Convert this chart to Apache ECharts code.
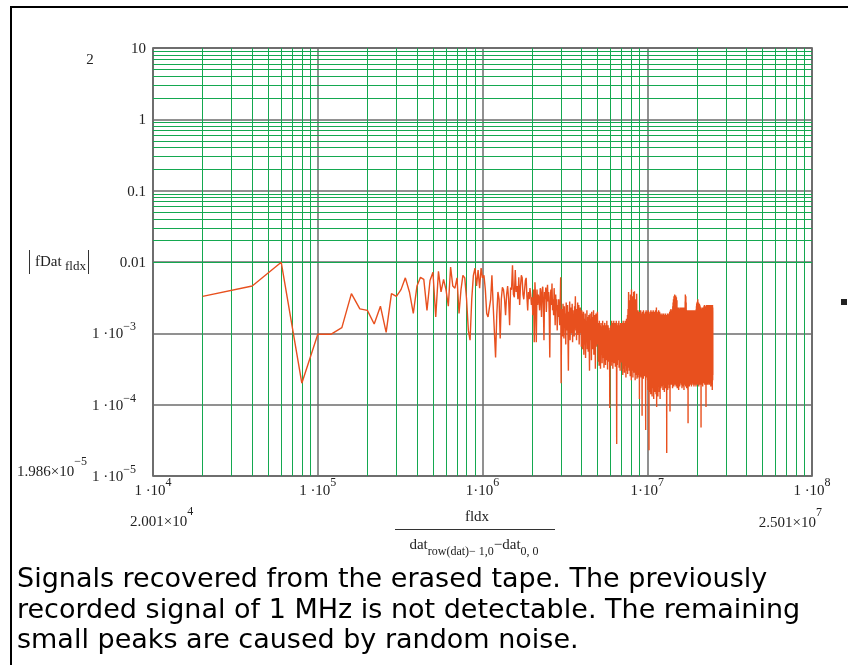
<!DOCTYPE html>
<html><head><meta charset="utf-8">
<script src="https://cdn.jsdelivr.net/npm/echarts@6/dist/echarts.min.js"></script>
<style>html,body{margin:0;padding:0;background:#fff}#c{width:848px;height:665px}</style>
</head><body><div id="c"></div>
<script>
// FFT bin spacing (Hz); bin k sits at k * FREQ_STEP, first bin 2.001e4, last 2.501e7
const FREQ_STEP = 2.001e4;
// |fDat| values, in units of 1e-4
const MAG_UNIT = 1e-4;
const magBins1to100 = [33,46,99,2.0,9.7,9.7,12,36,22,21, 13.5,24,10.3,36,33,41,60,38,19,46, 61,57,21,55,72,17,74,38,57,41, 24,85,46,43,60,19,41,65,60,30, 11,8,30,65,82,46,77,43,82,60, 65,41,19,17,17,30,65,25,24,4.6, 18,38,30,8.5,30,44,41,30,18,35, 46,30,13,44,41,90,35,32,77,38, 46,30,61,25,46,65,60,35,30,41, 55,60,32,21,38,30,43,35,25,32];
const magBins101to250 = [18,41,7.5,52,30,7.5,41,25,35,30, 21,43,35,17,41,45,25,8,38,30, 44,20,35,48,28,38,18,4.6,32,41, 25,50,21,30,18,43,25,13,35,21, 30,11,25,17,30,20,13,25,61,2,
 18,22,9,26,14,8.5,24,12,19,7, 27,11,16,25,9,3,20,13,28,8, 17,23,10,14,26,7.5,21,12,18,9, 24,15,33,11,20,8,22,13,27,9.5, 16,25,7,19,12,23,10,17,6.5,21,
 18,6,14,9,20,5,12,16,7,19, 4.5,11,15,8,21,6,13,17,5.5,10, 18,7,3,14,19,8,12,16,4.2,20, 9,13,6,17,11,21,5,15,8,18, 10,3.2,14,19,6.5,12,16,7,20,9];
const magBins251to500 = [14,4,9,12,3.5,15,6,11,13,3.2, 8,14,5,10,12.5,3.8,7,15,4.5,11, 9,13,3.3,6,12,14,5,10,3.6,13, 8,11,4.2,15,7,12,3.1,9,13,5.5, 11,4,12,8,10,0.9,6,11,4.4,12,
 13,3.5,9,15,4,11,7,14,3.2,10, 12,5,15,3.8,8,13,6,11,14,3.4, 9,12,4.5,15,7,0.28,13,10,3.6,12, 8,14,4.2,11,6,15,3.3,9,13,5, 12,3,10,14,7,11,3.9,13,8,12,
 14,3,10,13,2.6,8,15,4,12,3.2, 11,14,2.8,9,13,5,15,3.5,10,12, 2.4,14,7,16,3,11,13,4,18,2.7, 12,22,3.3,15,
 38,4,15,22,3,12,29,5,18,2.5, 35,9,3.8,20,14,2.2,41,6,17,3, 26,4.5,13,33,2.4,21,11,3.6,38,7, 16,2.8,24,39,5,12,19,2.2,27,3.2, 14,30,2.6,20,9,3.4,36,15,2.3,
 19,2.8,9,16,2.4,21,6,3.1,14,2.6, 18,3.3,11,20,1.2,15,7,2.5,17,3, 13,2.7,21,8,2.4,18,3.2,12,19,2.9, 16,0.7,10,20,2.6,14,3.4,18,5,2.3, 21,3,12,17,2.8,9,19,2.5,15,3.1, 18,2.7,11,20,3.3,0.44,16,6,21,2.9, 14,2.4,19,8,3.2,17,2.6];
const magBins501to750 = [20,2.2,13,18,1.6,9,21,2.6,15,1.9, 17,0.23,12,19,2.4,7,16,1.5,20,2.8, 14,2.1,18,10,1.4,21,2.5,13,17,1.8, 19,2.7,8,15,1.3,20,2.2,12,18,2.9, 16,1.7,21,11,2.4,14,1.2,19,6,2.6,
 18,2,13,20,1.5,10,17,2.8,15,1.9, 21,2.3,12,16,1.4,19,7,23,2.6,0.93, 17,2.1,14,20,1.6,11,18,2.7,9,1.3, 19,2.4,15,12,1.8,21,2.9,16,8,2, 18,1.5,13,20,2.5,10,17,1.2,19,2.2,
 16,2.3,11,18,1.7,13,2.8,17,8,2, 15,2.6,19,10,1.8,14,2.2,17,6,2.9, 18,1.6,12,16,2.5,9,19,2.1,14,1.9, 17,2.7,13,15,1.5,18,2.4,11,16,3, 14,2,19,7,1.7,17,2.6,12,18,2.3,
 15,1.8,16,10,2.9,0.21,18,2.2,13,17, 2.5,19,8,14,1.6,16,2.8,11,18,2.1, 15,1.9,17,12,2.6,19,9,2.3,16,1.7, 18,3,13,20,2.2,15,0.8,17,10,2.7, 21,2.4,16,12,1.9,22,3.1,18,8,2.5,
 19,2.4,14,21,1.9,11,18,2.9,16,2.2, 20,1.7,15,24,3,12,27,2.3,18,2, 30,2.6,17,25,1.8,33,3.2,14,28,2.4, 22,2,35,16,2.8,26,1.9,31,12,3.1, 29,2.3,19,34,2.7,15,27,1.8,24,2.9];
const magBins751to1000 = [32,2.1,18,26,3.3,13,29,2.5,21,1.7, 23,2.8,16,20,2.2,11,22,3,17,1.9, 21,2.6,14,23,1.6,18,2.4,12,20,3.2, 19,2.1,22,9,2.9,17,1.8,21,15,2.5, 23,2.7,13,20,2,18,3.1,16,22,2.3,
 21,2.6,15,23,1.9,12,20,3,18,2.2, 22,1.7,17,19,2.8,10,23,2.4,14,2, 20,3.2,16,22,2.1,13,21,1.8,18,2.7, 23,2.3,11,19,1.6,22,2.9,15,20,2.5, 18,2,21,14,3.1,23,2.2,17,28,1.9,
 35,2.6,22,31,1.8,16,33,2.9,19,2.3, 27,2.1,20,15,2.7,21,1.7,18,12,3, 19,2.4,16,21,1.9,14,20,2.8,17,2.2, 21,1.6,15,0.55,18,2.6,20,11,2.3,19, 2,17,21,3.1,13,18,2.5,20,9,1.8,
 19,2.7,14,21,2.1,17,3.2,11,20,2.4, 16,1.9,21,13,2.8,18,2.3,15,20,3, 18,2.2,12,21,2.6,17,1.8,19,14,3.3, 20,2.4,16,18,2,21,2.9,13,19,2.1, 17,3.1,21,15,2.3,19,1.9,12,20,2.7,
 18,2.5,14,21,3,16,2.2,20,10,1.8, 19,2.6,17,13,2.1,21,3.2,15,18,2.4, 20,1.9,16,19,2.8,11,21,2.3,17,3, 15,2.2,20,18,2.7,14,21,1.8,19,2.5, 22,3.1,17,24,2.4,19,26,2,21,2.9];
const magBins1001to1250 = [27,2.3,18,25,3,22,1.9,28,16,2.6, 24,2.1,30,19,2.8,26,2.4,17,23,3.2, 21,2,27,15,2.7,24,1.8,20,25,2.5, 19,3.1,23,16,2.2,26,2.9,18,22,2, 25,2.6,14,21,1.9,24,3.3,17,20,2.4,
 22,2.8,19,16,2.1,23,2.5,13,20,0.48, 18,2.7,21,15,2.2,19,3,12,22,1.9, 20,2.4,17,21,2.9,14,19,2.1,23,3.2, 16,2.3,20,18,1.8,22,2.6,15,21,2.8, 19,2,23,13,3.1,20,2.5,17,21,2.2,
 22,2.7,18,24,2,15,21,3,19,2.4, 25,2.2,17,20,2.8,23,1.9,14,22,3.2, 19,2.5,24,16,2.1,21,2.9,18,23,2.3, 20,3.1,15,22,2.6,0.93,19,24,2,17, 21,2.7,25,13,2.4,20,1.9,23,18,3,
 22,2.2,16,24,2.8,19,2.1,21,14,3.3, 23,2.5,20,17,1.9,25,2.9,18,22,2.3, 15,3,21,24,2.4,19,2,23,16,2.7, 20,2.2,25,18,3.2,22,2.6,14,21,1.9, 24,2.8,17,23,2.1,20,3.1,19,22,2.4,
 18,2,25,16,2.9,21,2.3,24,15,3.3, 22,2.5,19,23,1.8,20,2.7,17,24,2.2, 21,3,14,25,2.4,18,2.1,22,19,2.8, 23,2.6,20,16,1.9,24,3.2,18,21,1.6, 22,2.4,17,25,2.9,19,2.2,23,20,2.6];

// tick labels
const xTickBase = ['1 ·10','1 ·10','1·10','1·10','1 ·10'];   // 1e4 .. 1e8
const xTickExp  = ['4','5','6','7','8'];
const yTickBase = ['1 ·10','1 ·10','1 ·10','0.01','0.1','1','10']; // 1e-5 .. 10
const yTickExp  = ['−5','−4','−3','','','',''];
const minorMantissas = [2,3,4,5,6,7,8,9];
const xDecades = [1e4,1e5,1e6,1e7];
const yDecades = [1e-5,1e-4,1e-3,1e-2,1e-1,1];

const magAll = [].concat(magBins1to100, magBins101to250, magBins251to500, magBins501to750, magBins751to1000, magBins1001to1250);
const seriesData = magAll.map((u, i) => [(i + 1) * FREQ_STEP, u * MAG_UNIT]);

const xMinor = [], yMinor = [];
xDecades.forEach(d => minorMantissas.forEach(m => xMinor.push(m * d)));
yDecades.forEach(d => minorMantissas.forEach(m => yMinor.push(m * d)));

const serif = '"Liberation Serif", "Times New Roman", serif';
const ink = '#222';
const GREEN = '#14a850';
const MAJOR = '#6c6c6c';

// base / superscript fragments of equal box height; padding sets their vertical offsets
function richSet(basePad, supPad) {
  return {
    b: {fontFamily: serif, fontSize: 15, lineHeight: 16, color: ink, padding: basePad},
    s: {fontFamily: serif, fontSize: 12, lineHeight: 12, color: ink, padding: supPad}
  };
}
function tickText(base, exp) {
  return exp ? '{b|' + base + '}{s|' + exp + '}' : '{b|' + base + '}';
}
const captionFont = '27px "DejaVu Sans", Verdana, sans-serif';
function txt(x, y, text, font, align, extra) {
  return Object.assign({type: 'text', x: x, y: y, style: Object.assign({
    text: text, font: font, fill: ink, align: align, textAlign: align,
    verticalAlign: 'middle', textVerticalAlign: 'middle'}, extra || {})});
}

const chart = echarts.init(document.getElementById('c'), null, {renderer: 'canvas'});
chart.setOption({
  animation: false,
  backgroundColor: '#fff',
  grid: {left: 153, top: 48, width: 659, height: 428, show: true, borderColor: '#4a4a4a', borderWidth: 1.5, backgroundColor: 'transparent'},
  xAxis: {
    type: 'log', logBase: 10, min: 1e4, max: 1e8, splitNumber: 4,
    axisLine: {show: false}, axisTick: {show: false},
    splitLine: {show: true, lineStyle: {color: MAJOR, width: 1.5}},
    axisLabel: {
      margin: 5, hideOverlap: false, showMinLabel: true, showMaxLabel: true,
      formatter: v => { const i = Math.round(Math.log10(v)) - 4; return tickText(xTickBase[i], xTickExp[i]); },
      rich: richSet([6, 0, 2, 0], [0, 0, 12, 0])
    }
  },
  yAxis: {
    type: 'log', logBase: 10, min: 1e-5, max: 10, splitNumber: 6,
    axisLine: {show: false}, axisTick: {show: false},
    splitLine: {show: true, lineStyle: {color: MAJOR, width: 1.5}},
    axisLabel: {
      margin: 7, hideOverlap: false, showMinLabel: true, showMaxLabel: true,
      formatter: v => { const i = Math.round(Math.log10(v)) + 5; return tickText(yTickBase[i], yTickExp[i]); },
      rich: richSet([5, 0, 3, 0], [0, 10, 12, 0])
    }
  },
  series: [{
    type: 'line', data: seriesData, symbol: 'none', showSymbol: false, z: 3,
    lineStyle: {color: '#e8501e', width: 1.4}, itemStyle: {color: '#e8501e'},
    markLine: {
      silent: true, z: 1, symbol: ['none', 'none'], label: {show: false}, animation: false,
      lineStyle: {color: GREEN, width: 1, type: 'solid', opacity: 1},
      emphasis: {disabled: true},
      data: xMinor.map(v => ({xAxis: v})).concat(yMinor.map(v => ({yAxis: v})))
    }
  }],
  graphic: {elements: [
    {type: 'line', shape: {x1: 11, y1: 6, x2: 11, y2: 665}, style: {stroke: '#000', lineWidth: 2}},
    {type: 'line', shape: {x1: 10, y1: 7, x2: 848, y2: 7}, style: {stroke: '#000', lineWidth: 2}},
    {type: 'rect', shape: {x: 841, y: 299, width: 6, height: 6}, style: {fill: '#222'}},
    txt(90, 60, '2', '15px ' + serif, 'center'),
    // |fDat_fldx|
    {type: 'line', shape: {x1: 29.5, y1: 250, x2: 29.5, y2: 274}, style: {stroke: '#333', lineWidth: 1}},
    {type: 'line', shape: {x1: 88.5, y1: 250, x2: 88.5, y2: 274}, style: {stroke: '#333', lineWidth: 1}},
    txt(35, 262, 'fDat', '15px ' + serif, 'left'),
    txt(65, 267, 'fldx', '13px ' + serif, 'left'),
    // range limits
    txt(17, 468, '{b|1.986×10}{s|−5}', '15px ' + serif, 'left', {rich: richSet([8, 0, 0, 0], [0, 0, 12, 0])}),
    txt(130, 517.7, '{b|2.001×10}{s|4}', '15px ' + serif, 'left', {rich: richSet([8, 0, 0, 0], [0, 0, 12, 0])}),
    txt(822, 519, '{b|2.501×10}{s|7}', '15px ' + serif, 'right', {rich: richSet([8, 0, 0, 0], [0, 0, 12, 0])}),
    // x axis title (fraction)
    txt(477, 517, 'fldx', '15px ' + serif, 'center'),
    {type: 'line', shape: {x1: 395, y1: 529.5, x2: 555, y2: 529.5}, style: {stroke: '#333', lineWidth: 1}},
    txt(474, 547.5, '{a|dat}{s|row(dat)− 1,0}{a|−dat}{s|0, 0}', '15px ' + serif, 'center', {rich: {
      a: {fontFamily: serif, fontSize: 15, lineHeight: 15, color: ink, padding: [0, 0, 5, 0]},
      s: {fontFamily: serif, fontSize: 12, lineHeight: 12, color: ink, padding: [8, 0, 0, 0]}
    }}),
    // caption
    txt(17, 580, 'Signals recovered from the erased tape. The previously', captionFont, 'left', {fill: '#000'}),
    txt(17, 610.5, 'recorded signal of 1 MHz is not detectable. The remaining', captionFont, 'left', {fill: '#000'}),
    txt(17, 641, 'small peaks are caused by random noise.', captionFont, 'left', {fill: '#000'})
  ]}
});
</script>
</body></html>
